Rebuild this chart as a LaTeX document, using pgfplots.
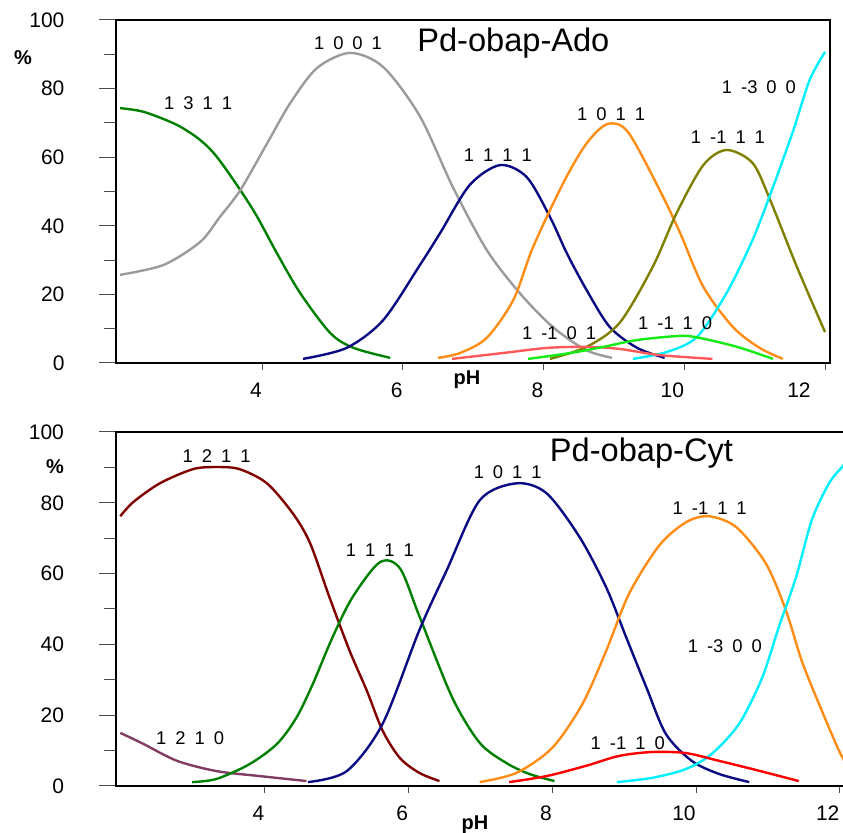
\documentclass[border=0pt]{standalone}
\usepackage{pgfplots}
\pgfplotsset{compat=1.18}
\usepackage{fontspec}
\setmainfont{Liberation Sans}
\definecolor{cgreen}{RGB}{0,128,0}
\definecolor{cgray}{RGB}{155,155,155}
\definecolor{cnavy}{RGB}{10,10,130}
\definecolor{corange}{RGB}{255,140,20}
\definecolor{colive}{RGB}{128,128,0}
\definecolor{ccyan}{RGB}{0,240,255}
\definecolor{clred}{RGB}{255,90,90}
\definecolor{clgreen}{RGB}{20,235,20}
\definecolor{cdred}{RGB}{128,0,0}
\definecolor{cpurple}{RGB}{130,60,100}
\definecolor{cred}{RGB}{255,0,0}
\newcommand\g{\hspace{4.5pt}}
\tikzset{lab/.style={font=\fontsize{9.2}{10}\selectfont}}
\pgfplotsset{
  panel/.style={scale only axis, anchor=south west, xmin=1.93, ymin=0, ymax=100,
    axis line style={line width=1pt},
    xtick=\empty, ytick={0,20,...,100}, minor ytick={10,30,...,90},
    ytick pos=left, tick align=outside, major tick length=8.5pt, minor tick length=6pt,
    tick style={line width=0.5pt, color=black!70},
    yticklabel style={font=\fontsize{10.5}{12}\selectfont, anchor=east, xshift=-14pt},
    /pgf/number format/assume math mode=true,
    every axis plot/.append style={line width=1.2pt, smooth}},
  xpanel/.style={scale only axis, anchor=south west, xmin=1.93, ymin=0, ymax=100,
    axis x line*=bottom, axis y line=none, axis line style={line width=1pt},
    xtick={4,6,8,10,12}, tick align=outside, major tick length=3.5pt,
    tick style={line width=0.5pt, color=black!70},
    xticklabel style={font=\fontsize{10.5}{12}\selectfont, anchor=north east, inner xsep=0pt, yshift=-3pt},
    /pgf/number format/assume math mode=true},
}
\begin{document}
\begin{tikzpicture}[x=1pt,y=1pt]
\useasboundingbox (0pt,0pt) rectangle (421.5pt,-416.5pt);
\clip (0pt,0pt) rectangle (421.5pt,-416.5pt);
% ---------------- top panel ----------------
\begin{axis}[panel, at={(58.25pt,-181.5pt)}, width=356.75pt, height=171.5pt, xmax=12.07]
\addplot[cgreen] coordinates {(1.98,74.3)(2.32,73.2)(2.79,69.4)(3.12,65)(3.36,60)(3.69,50.4)(3.93,42.6)(4.21,32)(4.54,20.4)(4.97,8.7)(5.3,4.4)(5.82,1.5)};
\addplot[cgray] coordinates {(1.98,25.7)(2.6,28.6)(3.12,35.3)(3.4,42.6)(3.69,50.4)(4.07,64)(4.4,75.8)(4.78,86)(5.25,90.4)(5.72,86.3)(6.24,72)(6.71,51.3)(7.19,33)(7.66,20.4)(8.13,10.5)(8.6,3.8)(8.97,1.5)};
\addplot[cnavy] coordinates {(4.58,1.2)(5.2,4.4)(5.72,12.5)(6.24,28.5)(6.53,37.9)(6.95,51.9)(7.38,57.7)(7.76,54.2)(8.09,42.6)(8.33,32)(8.61,21.3)(8.94,10.5)(9.33,4.4)(9.72,1.5)};
\addplot[corange] coordinates {(6.5,1.5)(6.81,2.9)(7.19,7.3)(7.57,18.4)(7.85,33.8)(8.28,52.5)(8.61,64)(8.91,69.7)(9.2,67.3)(9.65,50.4)(9.94,37.9)(10.27,22.2)(10.69,10.5)(11.07,4.4)(11.4,1.2)};
\addplot[colive] coordinates {(8.09,1.2)(8.61,4.7)(9.08,11.7)(9.55,28)(9.89,43.7)(10.27,57.7)(10.6,62.1)(10.97,58.3)(11.22,47.5)(11.6,28)(12.0,9)};
\addplot[ccyan] coordinates {(9.27,1.2)(9.75,3.2)(10.18,7.6)(10.6,20.4)(10.97,35.9)(11.26,51.3)(11.55,67.9)(11.78,82.5)(12.0,90.7)};
\addplot[clred] coordinates {(6.7,1.2)(7.42,2.9)(8.05,4.4)(8.61,4.7)(9.08,4.1)(9.65,2.3)(10.4,1.2)};
\addplot[clgreen] coordinates {(7.78,1.2)(8.38,2.9)(8.85,4.7)(9.33,6.7)(9.94,7.9)(10.22,7.3)(10.75,4.7)(11.26,1.2)};
\node[lab] at (axis cs:5.22,93.3) {1\g0\g0\g1};
\node[font=\fontsize{16.3}{18}\selectfont] at (axis cs:7.57,93.3) {Pd-obap-Ado};
\node[lab] at (axis cs:3.09,75.8) {1\g3\g1\g1};
\node[lab] at (axis cs:7.35,60.6) {1\g1\g1\g1};
\node[lab] at (axis cs:8.96,72.6) {1\g0\g1\g1};
\node[lab] at (axis cs:11.06,80.5) {1\g-3\g0\g0};
\node[lab] at (axis cs:10.62,65.9) {1\g-1\g1\g1};
\node[lab] at (axis cs:8.22,8.7) {1\g-1\g0\g1};
\node[lab] at (axis cs:9.87,11.7) {1\g-1\g1\g0};
\end{axis}
\begin{axis}[xpanel, at={(58.25pt,-181.5pt)}, width=356.75pt, height=171.5pt, xmax=12.07,
  xticklabels={4,6,8,10,12\kern7pt}]
\end{axis}
% ---------------- bottom panel ----------------
\begin{axis}[panel, at={(58pt,-393pt)}, width=365.5pt, height=177pt, xmax=12.1]
\addplot[cdred] coordinates {(1.99,76.2)(2.17,80.2)(2.54,85.5)(3.0,89.5)(3.33,90.1)(3.65,89.5)(4.03,85.5)(4.39,77)(4.63,68.6)(4.9,53.3)(5.18,38.2)(5.42,26.9)(5.64,15.6)(5.88,7.9)(6.15,3.7)(6.43,1.4)};
\addplot[cpurple] coordinates {(1.99,15)(2.31,11.9)(2.78,7.1)(3.33,4.2)(3.93,2.8)(4.58,1.4)};
\addplot[cgreen] coordinates {(2.99,1.1)(3.33,2)(3.79,6.2)(4.17,11.9)(4.44,19.3)(4.67,28.9)(4.94,41.9)(5.22,53.3)(5.6,63.2)(5.88,61.5)(6.15,48)(6.61,24.9)(6.99,12.2)(7.36,6.5)(7.68,3.4)(8.03,1.4)};
\addplot[cnavy] coordinates {(4.6,1.1)(5.14,4.2)(5.64,17.6)(6.15,44)(6.53,60.9)(6.99,80.7)(7.5,85.5)(7.92,82.7)(8.38,70.3)(8.75,56.1)(9.03,41.9)(9.31,27.8)(9.58,14.7)(9.94,7.1)(10.32,3.4)(10.74,1.1)};
\addplot[corange] coordinates {(6.99,1.1)(7.5,3.7)(8.0,10.8)(8.42,23.2)(8.75,38.2)(9.07,54.4)(9.49,68)(9.86,74.5)(10.18,76.2)(10.56,73.1)(10.97,62.9)(11.25,49.6)(11.47,35.4)(11.71,23.2)(11.99,9.9)(12.1,6)};
\addplot[ccyan] coordinates {(8.9,1.1)(9.39,2.3)(9.86,4.8)(10.22,9.1)(10.6,17.6)(10.92,30.6)(11.15,44.8)(11.39,58.9)(11.61,75.1)(11.85,85.5)(12.03,90.1)(12.1,92)};
\addplot[cred] coordinates {(7.4,1.1)(7.92,2.8)(8.47,5.7)(8.93,8.5)(9.39,9.6)(9.86,9.3)(10.32,7.1)(10.78,4.8)(11.43,1.4)};
\node[lab] at (axis cs:3.33,93.2) {1\g2\g1\g1};
\node[lab] at (axis cs:2.96,13.6) {1\g2\g1\g0};
\node[lab] at (axis cs:5.6,66.7) {1\g1\g1\g1};
\node[lab] at (axis cs:7.38,88.7) {1\g0\g1\g1};
\node[font=\fontsize{16.3}{18}\selectfont] at (axis cs:9.24,94.1) {Pd-obap-Cyt};
\node[lab] at (axis cs:10.19,78.5) {1\g-1\g1\g1};
\node[lab] at (axis cs:10.4,39.5) {1\g-3\g0\g0};
\node[lab] at (axis cs:9.05,12.1) {1\g-1\g1\g0};
\end{axis}
\begin{axis}[xpanel, at={(58pt,-393pt)}, width=365.5pt, height=177pt, xmax=12.1]
\end{axis}
% axis titles
\node[font=\bfseries\fontsize{10}{12}\selectfont] at (11.5pt,-29pt) {\%};
\node[font=\bfseries\fontsize{10}{12}\selectfont] at (233.5pt,-190pt) {pH};
\node[font=\bfseries\fontsize{10}{12}\selectfont] at (27.5pt,-233.5pt) {\%};
\node[font=\bfseries\fontsize{10}{12}\selectfont] at (237.5pt,-412.5pt) {pH};
\end{tikzpicture}
\end{document}
